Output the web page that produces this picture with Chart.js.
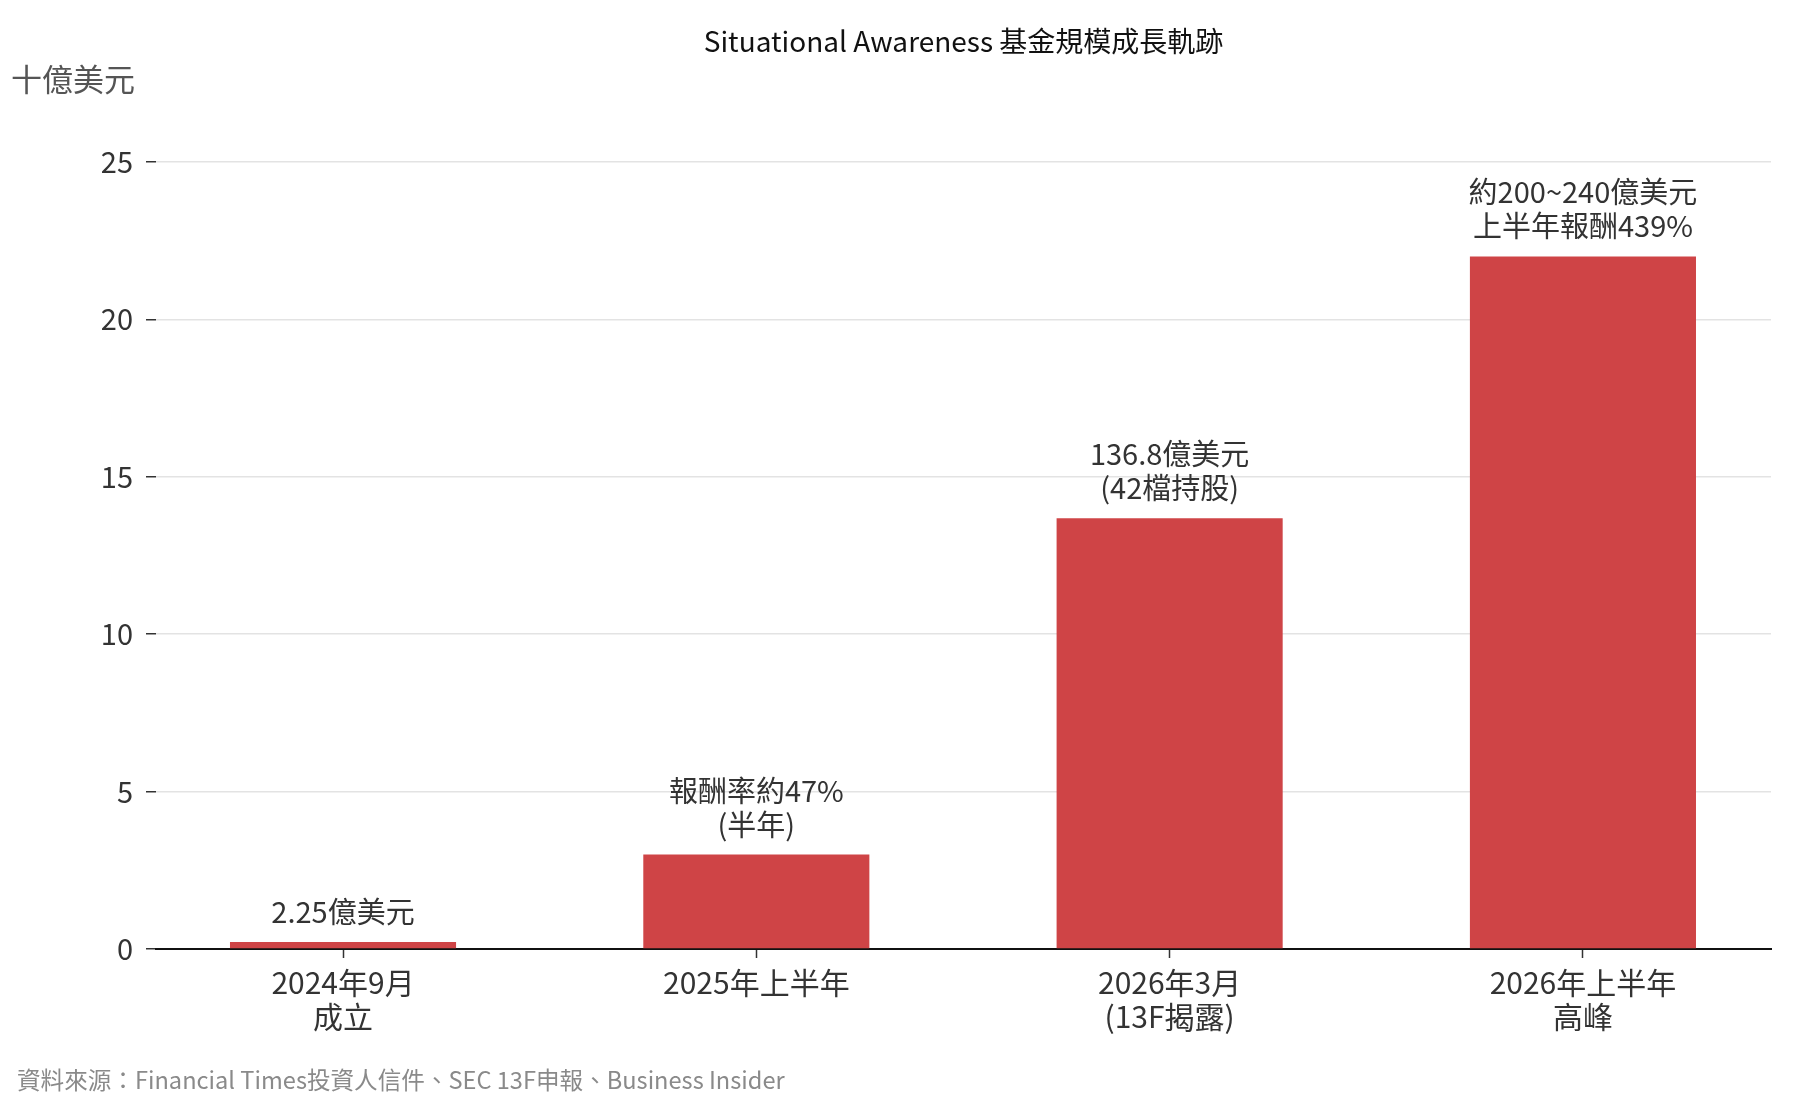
<!DOCTYPE html>
<html>
<head>
<meta charset="utf-8">
<title>Situational Awareness 基金規模成長軌跡</title>
<script src="https://cdn.jsdelivr.net/npm/chart.js@4.4.1/dist/chart.umd.min.js"></script>
<style>
  body { margin: 0; background: #fff; }
  #wrap { width: 1800px; height: 1100px; }
</style>
</head>
<body>
<div id="wrap"><canvas id="myChart" width="1800" height="1100"></canvas></div>
<script>
// data (billions USD)
const categories = [['2024年9月', '成立'], ['2025年上半年'], ['2026年3月', '(13F揭露)'], ['2026年上半年', '高峰']];
const fundSize = [0.225, 3.0, 13.68, 22.0];
const barNotes = [['2.25億美元'], ['報酬率約47%', '(半年)'], ['136.8億美元', '(42檔持股)'], ['約200~240億美元', '上半年報酬439%']];
const yTicks = [0, 5, 10, 15, 20, 25];

const chartTitle = 'Situational Awareness 基金規模成長軌跡';
const unitLabel = '十億美元';
const sourceText = '資料來源：Financial Times投資人信件、SEC 13F申報、Business Insider';

const FONT = '"Noto Sans CJK TC", "Noto Sans", sans-serif';

// extra text: title, unit, source and the notes above the bars
const textPlugin = {
    id: 'extraText',
    afterDatasetsDraw(chart) {
        const c = chart.ctx;
        const area = chart.chartArea;
        c.save();

        c.fillStyle = '#111';
        c.font = '28px ' + FONT;
        c.textAlign = 'center';
        c.textBaseline = 'middle';
        c.fillText(chartTitle, (area.left + area.right) / 2, 41);

        c.fillStyle = '#555';
        c.font = '31px ' + FONT;
        c.textAlign = 'left';
        c.fillText(unitLabel, 11, 79);

        c.fillStyle = '#8a8a8a';
        c.font = '23.6px ' + FONT;
        c.fillText(sourceText, 17, 1080);

        // notes above bars
        c.fillStyle = '#333';
        c.font = '29px ' + FONT;
        c.textAlign = 'center';
        const meta = chart.getDatasetMeta(0);
        meta.data.forEach((bar, i) => {
            const lines = barNotes[i];
            for (let k = 0; k < lines.length; k++) {
                const y = bar.y - 30 - (lines.length - 1 - k) * 34;
                c.fillText(lines[k], bar.x, y);
            }
        });
        c.restore();
    }
};

const ctx = document.getElementById('myChart');

const chart = new Chart(ctx, {
    type: 'bar',
    data: {
        datasets: [{
            data: fundSize.map((v, i) => ({ x: i, y: v })),
            backgroundColor: '#cf4446',
            borderWidth: 0,
            categoryPercentage: 0.547,
            barPercentage: 1
        }]
    },
    options: {
        responsive: false,
        animation: false,
        devicePixelRatio: 1,
        layout: { padding: { top: 162, right: 29, left: 0, bottom: 0 } },
        plugins: {
            legend: { display: false },
            title: { display: false },
            tooltip: { enabled: false }
        },
        scales: {
            x: {
                type: 'linear',
                offset: false,
                min: -0.4525,
                max: 3.455,
                afterBuildTicks: (s) => { s.ticks = categories.map((c, i) => ({ value: i })); },
                afterFit: (s) => { s.height = 151; },
                ticks: {
                    autoSkip: false,
                    maxRotation: 0,
                    padding: 8,
                    color: '#333',
                    font: { family: FONT, size: 30, lineHeight: 1.13 },
                    callback: (v) => categories[v]
                },
                grid: {
                    offset: false,
                    drawOnChartArea: false,
                    drawTicks: true,
                    tickLength: 9,
                    tickColor: '#333',
                    tickWidth: 1.5
                },
                border: { display: true, color: '#111', width: 2 }
            },
            y: {
                min: 0,
                max: 25,
                afterBuildTicks: (s) => { s.ticks = yTicks.map(v => ({ value: v })); },
                afterFit: (s) => { s.width = 156; },
                ticks: {
                    padding: 13,
                    color: '#333',
                    font: { family: FONT, size: 29 }
                },
                grid: {
                    color: '#e3e3e3',
                    lineWidth: 1.5,
                    tickLength: 10,
                    tickColor: '#333',
                    tickWidth: 1.5
                },
                border: { display: false }
            }
        }
    },
    plugins: [textPlugin]
});
</script>
</body>
</html>
